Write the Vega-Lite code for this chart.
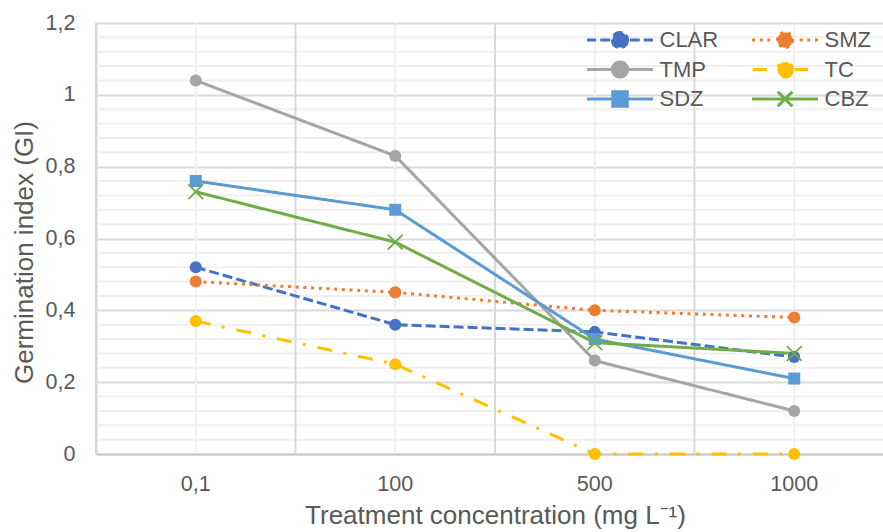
{
  "$schema": "https://vega.github.io/schema/vega-lite/v6.json",
  "width": 798,
  "height": 431,
  "autosize": {"type": "none"},
  "padding": {"left": 96, "top": 23, "right": 0, "bottom": 78},
  "background": "white",
  "config": {"view": {"stroke": null}, "font": "Liberation Sans"},
  "datasets": {
    "gi": [
      {"series": "CLAR", "conc": "0,1", "gi": 0.52},
      {"series": "CLAR", "conc": "100", "gi": 0.36},
      {"series": "CLAR", "conc": "500", "gi": 0.34},
      {"series": "CLAR", "conc": "1000", "gi": 0.27},
      {"series": "SMZ", "conc": "0,1", "gi": 0.48},
      {"series": "SMZ", "conc": "100", "gi": 0.45},
      {"series": "SMZ", "conc": "500", "gi": 0.40},
      {"series": "SMZ", "conc": "1000", "gi": 0.38},
      {"series": "TMP", "conc": "0,1", "gi": 1.04},
      {"series": "TMP", "conc": "100", "gi": 0.83},
      {"series": "TMP", "conc": "500", "gi": 0.26},
      {"series": "TMP", "conc": "1000", "gi": 0.12},
      {"series": "TC", "conc": "0,1", "gi": 0.37},
      {"series": "TC", "conc": "100", "gi": 0.25},
      {"series": "TC", "conc": "500", "gi": 0.0},
      {"series": "TC", "conc": "1000", "gi": 0.0},
      {"series": "SDZ", "conc": "0,1", "gi": 0.76},
      {"series": "SDZ", "conc": "100", "gi": 0.68},
      {"series": "SDZ", "conc": "500", "gi": 0.32},
      {"series": "SDZ", "conc": "1000", "gi": 0.21},
      {"series": "CBZ", "conc": "0,1", "gi": 0.73},
      {"series": "CBZ", "conc": "100", "gi": 0.59},
      {"series": "CBZ", "conc": "500", "gi": 0.31},
      {"series": "CBZ", "conc": "1000", "gi": 0.28}
    ],
    "hminor": [
      {"v": 0.04}, {"v": 0.08}, {"v": 0.12}, {"v": 0.16},
      {"v": 0.24}, {"v": 0.28}, {"v": 0.32}, {"v": 0.36},
      {"v": 0.44}, {"v": 0.48}, {"v": 0.52}, {"v": 0.56},
      {"v": 0.64}, {"v": 0.68}, {"v": 0.72}, {"v": 0.76},
      {"v": 0.84}, {"v": 0.88}, {"v": 0.92}, {"v": 0.96},
      {"v": 1.04}, {"v": 1.08}, {"v": 1.12}, {"v": 1.16}
    ],
    "cats": [
      {"conc": "0,1"}, {"conc": "100"}, {"conc": "500"}, {"conc": "1000"}
    ]
  },
  "layer": [
    {
      "data": {"name": "hminor"},
      "mark": {"type": "rule", "color": "#efefef", "strokeWidth": 2},
      "encoding": {
        "y": {"field": "v", "type": "quantitative", "title": "Germination index (GI)",
              "scale": {"domain": [0, 1.2], "nice": false, "zero": true}}
      }
    },
    {
      "data": {"name": "cats"},
      "mark": {"type": "rule", "color": "#efefef", "strokeWidth": 2},
      "encoding": {
        "x": {"field": "conc", "type": "nominal", "sort": null, "bandPosition": 0.5,
              "title": "Treatment concentration (mg L⁻¹)",
              "scale": {"type": "band", "paddingInner": 0, "paddingOuter": 0, "domain": ["0,1", "100", "500", "1000"]}}
      }
    },
    {
      "data": {"name": "cats"},
      "mark": {"type": "rule", "color": "#d9d9d9", "strokeWidth": 2},
      "encoding": {
        "x": {"field": "conc", "type": "nominal", "sort": null, "bandPosition": 0,
              "title": "Treatment concentration (mg L⁻¹)",
              "scale": {"type": "band", "paddingInner": 0, "paddingOuter": 0, "domain": ["0,1", "100", "500", "1000"]}}
      }
    },
    {
      "data": {"name": "gi"},
      "mark": {"type": "line", "strokeWidth": 3},
      "encoding": {
        "x": {"field": "conc", "type": "nominal", "sort": null, "bandPosition": 0.5,
              "title": "Treatment concentration (mg L⁻¹)",
              "scale": {"type": "band", "paddingInner": 0, "paddingOuter": 0, "domain": ["0,1", "100", "500", "1000"]},
              "axis": {
                "domain": true, "domainColor": "#c8c8c8", "domainWidth": 2,
                "ticks": false, "grid": false,
                "labelFontSize": 21.5, "labelColor": "#595959", "labelPadding": 36,
                "labelBaseline": "alphabetic", "labelAngle": 0, "labelAlign": "center",
                "labelFont": "Liberation Sans",
                "titleFontSize": 26, "titleColor": "#595959", "titleFontWeight": "normal",
                "titleFont": "Liberation Sans", "titleY": 69, "titleBaseline": "alphabetic"
              }},
        "y": {"field": "gi", "type": "quantitative", "title": "Germination index (GI)",
              "scale": {"domain": [0, 1.2], "nice": false, "zero": true},
              "axis": {
                "values": [0, 0.2, 0.4, 0.6, 0.8, 1, 1.2],
                "grid": true, "gridColor": "#d9d9d9", "gridWidth": 2,
                "domain": true, "domainColor": "#d0d0d0", "domainWidth": 2,
                "ticks": false,
                "labelFontSize": 21.5, "labelColor": "#595959", "labelPadding": 21,
                "labelFont": "Liberation Sans", "labelBaseline": "middle",
                "labelExpr": "replace(format(datum.value, '.1~f'), '.', ',')",
                "titleFontSize": 26, "titleColor": "#595959", "titleFontWeight": "normal",
                "titleFont": "Liberation Sans", "titleX": -64, "titleY": 229,
                "titleBaseline": "alphabetic", "titleAngle": -90, "titleAlign": "center"
              }},
        "color": {
          "field": "series", "type": "nominal",
          "scale": {
            "domain": ["CLAR", "SMZ", "TMP", "TC", "SDZ", "CBZ"],
            "range": ["#4472C4", "#ED7D31", "#A5A5A5", "#FFC000", "#5B9BD5", "#70AD47"]
          },
          "legend": {
            "title": null, "orient": "none", "legendX": 489.5, "legendY": 6,
            "columns": 2, "padding": 0,
            "values": ["CLAR", "TMP", "SDZ", "SMZ", "TC", "CBZ"],
            "symbolSize": 4356, "symbolStrokeWidth": 3,
            "labelFontSize": 22, "labelColor": "#595959", "labelFont": "Liberation Sans",
            "labelOffset": 5, "columnPadding": 32, "rowPadding": 7.5, "clipHeight": 22,
            "encode": {
              "symbols": {
                "update": {
                  "shape": {"signal": "datum.value === 'SDZ' ? 'M-1,0L-0.22,0M0.22,0L1,0M-0.22,-0.22L0.22,-0.22L0.22,0.22L-0.22,0.22Z' : datum.value === 'CBZ' ? 'M-1,0L1,0M-0.22,-0.22L0.22,0.22M-0.22,0.22L0.22,-0.22' : datum.value === 'CLAR' ? 'M-1,0L-0.72,0M-0.6,0L-0.3,0M0.3,0L0.6,0M0.72,0L1,0M0.23,0A0.23,0.23,0,1,1,-0.23,0A0.23,0.23,0,1,1,0.23,0Z' : datum.value === 'SMZ' ? 'M-1,0L-0.91,0M-0.765,0L-0.675,0M-0.535,0L-0.445,0M0.445,0L0.535,0M0.675,0L0.765,0M0.91,0L1,0M0.23,0A0.23,0.23,0,1,1,-0.23,0A0.23,0.23,0,1,1,0.23,0Z' : datum.value === 'TC' ? 'M-0.98,0L-0.55,0M0.3,0L0.7,0M0.23,0A0.23,0.23,0,1,1,-0.23,0A0.23,0.23,0,1,1,0.23,0Z' : 'M-1,0L-0.23,0M0.23,0L1,0M0.23,0A0.23,0.23,0,1,1,-0.23,0A0.23,0.23,0,1,1,0.23,0Z'"},
                  "strokeDash": {"value": [1, 0]},
                  "size": {"value": 4356},
                  "fill": {"scale": "color", "field": "value"},
                  "stroke": {"scale": "color", "field": "value"},
                  "strokeWidth": {"value": 3},
                  "opacity": {"value": 1},
                  "fillOpacity": {"value": 1},
                  "strokeOpacity": {"value": 1}
                }
              }
            }
          }
        },
        "strokeDash": {
          "field": "series", "type": "nominal", "legend": null,
          "scale": {
            "domain": ["CLAR", "SMZ", "TMP", "TC", "SDZ", "CBZ"],
            "range": [[10, 4], [3, 4.7], [1, 0], [15, 11.5, 3, 12], [1, 0], [1, 0]]
          }
        }
      }
    },
    {
      "data": {"name": "gi"},
      "transform": [{"filter": "datum.series !== 'CBZ'"}],
      "mark": {"type": "point", "filled": true, "opacity": 1, "strokeWidth": 1},
      "encoding": {
        "x": {"field": "conc", "type": "nominal", "sort": null, "bandPosition": 0.5,
              "title": "Treatment concentration (mg L⁻¹)",
              "scale": {"type": "band", "paddingInner": 0, "paddingOuter": 0, "domain": ["0,1", "100", "500", "1000"]}},
        "y": {"field": "gi", "type": "quantitative", "title": "Germination index (GI)"},
        "color": {"field": "series", "type": "nominal"},
        "shape": {
          "field": "series", "type": "nominal", "legend": null,
          "scale": {
            "domain": ["CLAR", "SMZ", "TMP", "TC", "SDZ"],
            "range": ["circle", "circle", "circle", "circle", "square"]
          }
        },
        "size": {
          "field": "series", "type": "nominal", "legend": null,
          "scale": {
            "domain": ["CLAR", "SMZ", "TMP", "TC", "SDZ"],
            "range": [145, 145, 145, 145, 195]
          }
        }
      }
    },
    {
      "data": {"name": "gi"},
      "transform": [{"filter": "datum.series === 'CBZ'"}],
      "mark": {"type": "point", "filled": false, "opacity": 1, "strokeWidth": 1.8,
               "shape": "M-1,-1L1,1M-1,1L1,-1", "size": 220},
      "encoding": {
        "x": {"field": "conc", "type": "nominal", "sort": null, "bandPosition": 0.5,
              "title": "Treatment concentration (mg L⁻¹)",
              "scale": {"type": "band", "paddingInner": 0, "paddingOuter": 0, "domain": ["0,1", "100", "500", "1000"]}},
        "y": {"field": "gi", "type": "quantitative", "title": "Germination index (GI)"},
        "color": {"field": "series", "type": "nominal"}
      }
    }
  ]
}
